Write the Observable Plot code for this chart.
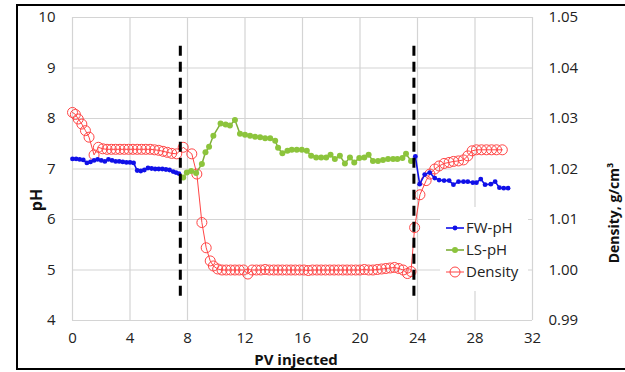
<!DOCTYPE html>
<html><head><meta charset="utf-8">
<script src="https://cdn.jsdelivr.net/npm/d3@7"></script>
<script src="https://cdn.jsdelivr.net/npm/@observablehq/plot@0.6"></script>
<style>
body{margin:0;background:#fff;}
#wrap{position:relative;width:625px;height:372px;overflow:hidden;}
#border{position:absolute;left:16px;top:4px;width:640px;height:366px;border:2px solid #000;box-sizing:border-box;pointer-events:none;}
</style></head><body><div id="wrap"><div id="border"></div></div>
<script>
// ---- data ----
const xTicks = [0,4,8,12,16,20,24,28,32];
const pHTicks = [4,5,6,7,8,9,10];
const densTickLabels = ["0.99","1.00","1.01","1.02","1.03","1.04","1.05"];
const seriesNames = ["FW-pH","LS-pH","Density"];
const seriesColors = ["#1010e8","#8cc43c","#ff4545"];

const fwPV = [0,0.25,0.5,0.75,1.0,1.25,1.5,1.75,2.0,2.25,2.5,2.75,3.0,3.25,3.5,3.75,4.0,4.25,4.5,4.75,5.0,5.25,5.5,5.75,6.0,6.25,6.5,6.75,7.0,7.2,7.4,
  15,
  23.85,24.15,24.5,24.85,25.2,25.5,25.85,26.2,26.5,26.85,27.2,27.5,27.85,28.1,28.4,28.7,29.1,29.4,29.7,30.0,30.3];
const fwPH = [7.20,7.20,7.19,7.18,7.12,7.14,7.17,7.19,7.17,7.15,7.19,7.17,7.15,7.15,7.14,7.13,7.13,7.12,6.97,6.96,6.98,7.02,7.01,7.00,7.00,7.00,6.99,6.98,6.95,6.93,6.91,
  null,
  7.25,6.70,6.89,6.93,6.82,6.78,6.77,6.77,6.69,6.75,6.75,6.75,6.73,6.73,6.80,6.69,6.70,6.75,6.63,6.62,6.62];

const lsPV = [7.7,7.95,8.25,8.6,9.0,9.25,9.5,9.8,10.3,10.65,10.95,11.3,11.65,12.0,12.35,12.7,13.05,13.4,13.75,14.1,14.3,14.6,14.95,15.25,15.6,15.95,16.3,16.6,16.95,17.3,17.65,17.95,18.25,18.6,18.95,19.3,19.6,19.95,20.3,20.6,20.9,21.25,21.6,21.95,22.3,22.6,22.95,23.2,23.55];
const lsPH = [6.83,6.93,6.96,6.92,7.10,7.33,7.44,7.66,7.90,7.88,7.86,7.97,7.70,7.68,7.66,7.64,7.63,7.61,7.61,7.56,7.42,7.31,7.36,7.38,7.38,7.38,7.36,7.26,7.23,7.23,7.23,7.28,7.20,7.26,7.11,7.23,7.13,7.22,7.23,7.28,7.16,7.16,7.18,7.20,7.20,7.20,7.22,7.30,7.16];

const denPV = [0,0.2,0.4,0.65,0.9,1.15,1.5,1.8,2.1,2.4,2.7,3.0,3.3,3.6,3.9,4.2,4.5,4.8,5.1,5.4,5.7,6.0,6.3,6.6,6.9,7.25,7.7,8.3,8.65,9.0,9.3,9.58,9.8,
  10.1,10.4,10.7,11.0,11.3,11.6,11.9,12.2,12.5,12.8,13.1,13.4,13.7,14.0,14.3,14.6,14.9,15.2,15.5,15.8,16.1,16.4,16.7,17.0,17.3,17.6,17.9,18.2,18.5,18.8,19.1,19.4,19.7,20.0,20.3,20.6,20.9,21.2,21.5,21.8,22.1,22.4,22.7,23.0,23.3,23.55,23.8,
  24.17,24.6,24.86,25.2,25.5,25.85,26.2,26.5,26.85,27.2,27.5,27.8,28.1,28.45,28.8,29.15,29.5,29.9,30.25];
const denVal = [1.0312,1.0308,1.0299,1.0289,1.0276,1.0263,1.0228,1.0243,1.0240,1.0239,1.0239,1.0239,1.0239,1.0239,1.0239,1.0239,1.0239,1.0239,1.0239,1.0239,1.0238,1.0237,1.0235,1.0233,1.0231,1.0230,1.0243,1.0230,1.0190,1.0094,1.0044,1.0018,1.0008,
  1.0002,1.0000,1.0000,1.0000,1.0000,1.0000,1.0000,0.9992,1.0000,1.0000,1.0000,1.0001,1.0000,1.0000,1.0000,1.0000,1.0000,1.0000,1.0000,1.0000,1.0000,0.9999,1.0000,1.0000,1.0000,1.0000,1.0000,1.0000,1.0000,1.0000,1.0000,1.0000,1.0000,1.0000,1.0001,1.0000,1.0000,1.0001,1.0002,1.0003,1.0004,1.0005,1.0003,1.0000,0.9993,0.9997,
  1.0084,1.0149,1.0177,1.0190,1.0200,1.0206,1.0211,1.0213,1.0215,1.0216,1.0218,1.0226,1.0236,1.0238,1.0238,1.0238,1.0238,1.0238,1.0238];

const dividerPV = [7.5, 23.75];
const dividerTop = [9.55, 9.55];
const dividerBottom = [4.48, 4.48];

// ---- build tables ----
const fw = fwPV.map((x,i)=>({x, y: fwPH[i]}));
const ls = lsPV.map((x,i)=>({x, y: lsPH[i]}));
const den = denPV.map((x,i)=>({x, y: 4 + (denVal[i]-0.99)*100}));
const dividers = dividerPV.map((x,i)=>({x, y1: dividerBottom[i], y2: dividerTop[i]}));

const font = "'Open Sans', sans-serif";
const svg = Plot.plot({
  width: 625, height: 372,
  marginLeft: 72, marginRight: 93, marginTop: 17, marginBottom: 52,
  style: {fontFamily: font, fontSize: "15px", color: "#222", background: "transparent"},
  x: {domain: [0,32]},
  y: {domain: [4,10]},
  marks: [
    Plot.ruleY(pHTicks, {stroke: "#d4d4d4", strokeWidth: 1.2}),
    Plot.ruleX(xTicks, {stroke: "#d4d4d4", strokeWidth: 1.2}),
    Plot.axisX({ticks: xTicks, tickSize: 0, tickPadding: 12, label: null, fontSize: 15, tickFormat: d => String(d)}),
    Plot.axisY({ticks: pHTicks, tickSize: 0, tickPadding: 17, label: null, fontSize: 15, tickFormat: d => String(d)}),
    Plot.axisY({anchor: "right", ticks: pHTicks, tickSize: 0, tickPadding: 16, label: null, fontSize: 15,
      tickFormat: d => densTickLabels[pHTicks.indexOf(d)]}),
    Plot.line(den, {x: "x", y: "y", stroke: seriesColors[2], strokeWidth: 1}),
    Plot.dot(den, {x: "x", y: "y", r: 5, stroke: seriesColors[2], strokeWidth: 1, fill: "none"}),
    Plot.line(ls, {x: "x", y: "y", stroke: "#7fae3a", strokeWidth: 1.5}),
    Plot.dot(ls, {x: "x", y: "y", r: 3, fill: seriesColors[1], stroke: "none"}),
    Plot.line(fw, {x: "x", y: "y", stroke: seriesColors[0], strokeWidth: 1.6}),
    Plot.dot(fw.filter(d => d.y != null), {x: "x", y: "y", r: 2.4, fill: seriesColors[0], stroke: "none"}),
    Plot.ruleX(dividers, {x: "x", y1: "y1", y2: "y2", stroke: "#000", strokeWidth: 3, strokeDasharray: "10,6"})
  ]
});
svg.style.position = "absolute";
svg.style.left = "0px";
svg.style.top = "0px";
const s = d3.select(svg);

// axis titles
s.append("text").attr("transform", "translate(42,200) rotate(-90)")
  .attr("text-anchor", "middle").attr("font-weight", "bold").attr("font-size", 16)
  .attr("font-family", font).attr("fill", "#111").text("pH");
s.append("text").attr("transform", "translate(619,213) rotate(-90)")
  .attr("text-anchor", "middle").attr("font-weight", "bold").attr("font-size", 14)
  .attr("font-family", font).attr("fill", "#111").text("Density, g/cm³");
s.append("text").attr("x", 296).attr("y", 365)
  .attr("text-anchor", "middle").attr("font-weight", "bold").attr("font-size", 15)
  .attr("font-family", font).attr("fill", "#111").text("PV injected");

// legend
const lg = s.append("g");
lg.append("rect").attr("x", 440).attr("y", 207).attr("width", 88).attr("height", 84).attr("fill", "#fff");
const rows = [228, 250, 272];
seriesNames.forEach((name, i) => {
  const y = rows[i];
  lg.append("line").attr("x1", 446).attr("x2", 464).attr("y1", y).attr("y2", y)
    .attr("stroke", i===1 ? "#7fae3a" : seriesColors[i]).attr("stroke-width", i===2 ? 1 : 1.6);
  if (i === 2) lg.append("circle").attr("cx", 455).attr("cy", y).attr("r", 5).attr("fill", "none").attr("stroke", seriesColors[i]);
  else lg.append("circle").attr("cx", 455).attr("cy", y).attr("r", i===0 ? 2.4 : 3).attr("fill", seriesColors[i]);
  lg.append("text").attr("x", 466).attr("y", y).attr("dy", "0.35em").attr("font-size", 15)
    .attr("text-anchor", "start")
    .attr("font-family", font).attr("fill", "#222").text(name);
});

document.getElementById("wrap").appendChild(svg);
</script>
</body></html>
